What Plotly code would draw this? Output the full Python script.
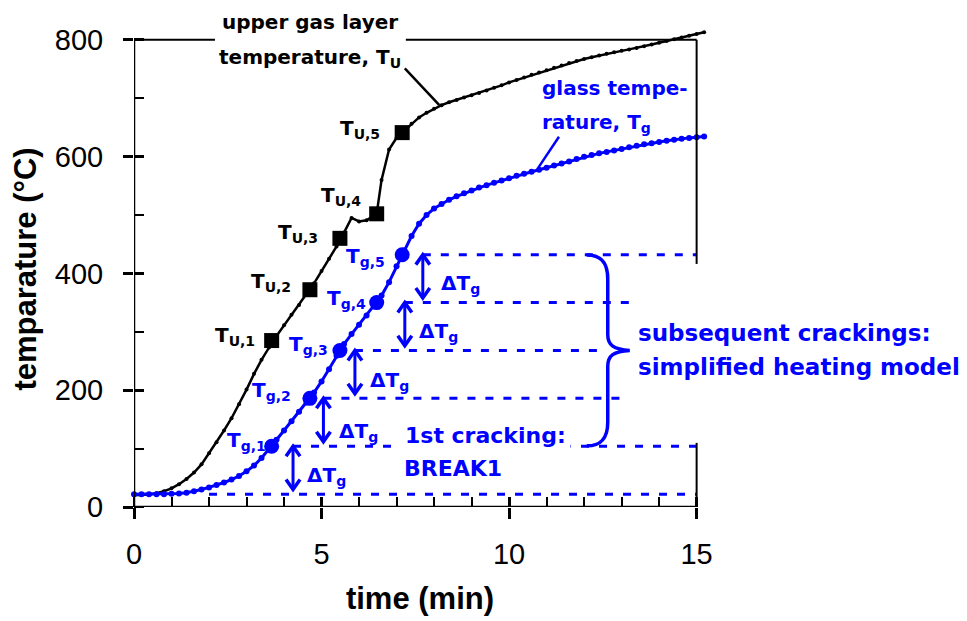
import plotly.graph_objects as go

# ---------------- data ----------------
time_min = [0.0, 0.2, 0.4, 0.6, 0.8, 1.0, 1.2, 1.4, 1.6, 1.8,
            2.0, 2.2, 2.4, 2.6, 2.8, 3.0, 3.2, 3.4, 3.6, 3.8,
            4.0, 4.2, 4.4, 4.6, 4.8, 5.0, 5.2, 5.4, 5.6, 5.8,
            6.0, 6.2, 6.4, 6.6, 6.8, 7.0, 7.2, 7.4, 7.6, 7.8,
            8.0, 8.2, 8.4, 8.6, 8.8, 9.0, 9.2, 9.4, 9.6, 9.8,
            10.0, 10.2, 10.4, 10.6, 10.8, 11.0, 11.2, 11.4, 11.6, 11.8,
            12.0, 12.2, 12.4, 12.6, 12.8, 13.0, 13.2, 13.4, 13.6, 13.8,
            14.0, 14.2, 14.4, 14.6, 14.8, 15.0, 15.2]

gas_temp = [20, 20.5, 21.5, 23.5, 27, 32, 39, 48, 59, 73,
            92, 111, 131, 152, 176, 201, 228, 252, 273, 293,
            311, 329, 346, 364, 383, 404, 425, 446, 470, 495,
            489, 491, 499, 560, 612, 632, 644, 656, 667, 675,
            682, 688, 693, 697, 701, 705, 709, 713, 718, 722,
            727, 731, 735.5, 740, 744, 748, 752, 756, 760, 763.5,
            767, 770, 773, 776, 778.5, 781, 783.5, 786, 789, 792,
            795, 798, 801, 804, 807, 810, 813]

glass_temp = [22, 22, 22, 22, 22, 22.5, 23, 24.5, 27, 30,
              33.5, 37.5, 42, 47, 53, 61, 71, 84, 99, 115,
              131, 147, 163, 179, 196, 215, 236, 259, 279, 296,
              312, 328, 344, 362, 385, 412, 439, 464, 485, 500,
              511, 519, 526, 532, 537, 542, 547, 551, 555, 559,
              563, 567, 570.5, 574, 577.5, 581, 584.5, 588, 591.5, 596,
              599.5, 602.5, 605.5, 608, 610.5, 613, 616, 618.5, 621, 623,
              625, 627, 629, 630.5, 632, 633, 634.5]

crack_time = [3.67, 4.69, 5.49, 6.47, 7.15]
gas_at_crack = [285, 372, 460, 502, 641]
glass_at_crack = [104, 186, 268, 350, 432]
glass_start = 22
crack_labels = ["1", "2", "3", "4", "5"]

x_ticks = [0, 5, 10, 15]
y_ticks = [0, 200, 400, 600, 800]

# ---------------- styling / layout helpers ----------------
BLUE = "#0000ff"
BLACK = "#000000"
TXT = "DejaVu Sans"
NUM = "Liberation Sans, Arial, sans-serif"

XR = [0, 15.25]
YR = [0, 815]
ML, MR, MT, MB = 134, 260.7, 30.7, 111.5
PW = 967 - ML - MR
PH = 621 - MT - MB
XS = PW / (XR[1] - XR[0])     # px per minute
YS = PH / (YR[1] - YR[0])     # px per degree


def px_x(p):
    return (p - ML) / XS


def px_y(p):
    return (621 - MB - p) / YS


def pp_x(p):
    return (p - ML) / PW


def pp_y(p):
    return (621 - MB - p) / PH


def merged(t, v, tm, vm):
    pts = sorted(zip(list(t) + list(tm), list(v) + list(vm)))
    return [p[0] for p in pts], [p[1] for p in pts]


gx, gy = merged(time_min, gas_temp, crack_time, gas_at_crack)
bx, by = merged(time_min, glass_temp, crack_time, glass_at_crack)

fig = go.Figure()
fig.add_trace(go.Scatter(x=gx, y=gy, mode="lines+markers",
                         line=dict(color=BLACK, width=2.5),
                         marker=dict(color=BLACK, size=4),
                         cliponaxis=False, hoverinfo="skip"))
fig.add_trace(go.Scatter(x=bx, y=by, mode="lines+markers",
                         line=dict(color=BLUE, width=3),
                         marker=dict(color=BLUE, size=6),
                         cliponaxis=False, hoverinfo="skip"))
fig.add_trace(go.Scatter(x=crack_time, y=gas_at_crack, mode="markers",
                         marker=dict(color=BLACK, size=15, symbol="square"),
                         cliponaxis=False))
fig.add_trace(go.Scatter(x=crack_time, y=glass_at_crack, mode="markers",
                         marker=dict(color=BLUE, size=15, symbol="circle"),
                         cliponaxis=False))
# empty traces that activate the overlay axes (inner halves of major ticks)
fig.add_trace(go.Scatter(x=[], y=[], xaxis="x2", yaxis="y", showlegend=False))
fig.add_trace(go.Scatter(x=[], y=[], xaxis="x", yaxis="y2", showlegend=False))

shapes = []
# frame
shapes.append(dict(type="line", x0=0, x1=0, y0=0, y1=800, line=dict(color=BLACK, width=2.5)))
shapes.append(dict(type="line", x0=0, x1=15, y0=0, y1=0, line=dict(color=BLACK, width=2.5)))
shapes.append(dict(type="line", x0=0, x1=px_x(215), y0=800, y1=800, line=dict(color=BLACK, width=2)))
shapes.append(dict(type="line", x0=px_x(406), x1=15, y0=800, y1=800, line=dict(color=BLACK, width=2)))
shapes.append(dict(type="line", x0=15, x1=15, y0=0, y1=px_y(445), line=dict(color=BLACK, width=2)))
shapes.append(dict(type="line", x0=15, x1=15, y0=px_y(265), y1=800, line=dict(color=BLACK, width=2)))

# dashed crack levels
levels = [glass_start] + glass_at_crack
arrow_x = [4.24, 5.05, 5.89, 7.22, 7.70]
line_start = [2.0] + arrow_x
line_end = [15, 15, 13.0, 12.4, 13.2, 15]
for lv, s, e in zip(levels, line_start, line_end):
    shapes.append(dict(type="line", x0=s, x1=e, y0=lv, y1=lv, layer="below",
                       line=dict(color=BLUE, width=3, dash="8px,10px")))

# double headed arrows (shaft + open chevron heads)
hw = 7 / XS      # half width of head
hh = 10 / YS     # height of head
for ax_, top, low in zip(arrow_x, glass_at_crack, levels[:-1]):
    bot = low + 8
    shapes.append(dict(type="line", x0=ax_, x1=ax_, y0=bot, y1=top, line=dict(color=BLUE, width=3)))
    shapes.append(dict(type="path",
                       path=f"M {ax_ - hw},{top - hh} L {ax_},{top} L {ax_ + hw},{top - hh}",
                       line=dict(color=BLUE, width=3.5)))
    shapes.append(dict(type="path",
                       path=f"M {ax_ - hw},{bot + hh} L {ax_},{bot} L {ax_ + hw},{bot + hh}",
                       line=dict(color=BLUE, width=3.5)))

# curly brace
bxp = [px_x(v) for v in (587, 600, 608, 614, 630)]
path = (f"M {bxp[0]},{px_y(256)} C {bxp[1]},{px_y(256)} {bxp[2]},{px_y(262)} {bxp[2]},{px_y(280)} "
        f"L {bxp[2]},{px_y(336)} C {bxp[2]},{px_y(347)} {bxp[3]},{px_y(351)} {bxp[4]},{px_y(352)} "
        f"C {bxp[3]},{px_y(353)} {bxp[2]},{px_y(357)} {bxp[2]},{px_y(368)} "
        f"L {bxp[2]},{px_y(424)} C {bxp[2]},{px_y(442)} {bxp[1]},{px_y(448)} {bxp[0]},{px_y(448)}")
shapes.append(dict(type="path", path=path, line=dict(color=BLUE, width=3.5)))

# leader lines
shapes.append(dict(type="line", x0=7.22, y0=751, x1=8.14, y1=688, line=dict(color=BLACK, width=2.5)))
shapes.append(dict(type="line", x0=11.33, y0=634, x1=10.78, y1=581, line=dict(color=BLUE, width=2.5)))

ann = []


def txt(text, px, py, color, size, xanchor="left", yshift=0, bg=None, pad=1):
    d = dict(text=text, x=pp_x(px), y=pp_y(py), xref="paper", yref="paper", showarrow=False,
             xanchor=xanchor, yanchor="middle", yshift=yshift, borderpad=pad,
             font=dict(family=TXT, size=size, color=color, weight="bold"))
    if bg:
        d["bgcolor"] = bg
    ann.append(d)


txt("upper gas layer", 310, 22, BLACK, 20, "center")
txt("temperature, T<sub>U</sub>", 310, 55, BLACK, 20, "center", yshift=-3)
txt("glass tempe-", 540, 88, BLUE, 20)
txt("rature, T<sub>g</sub>", 540, 120, BLUE, 20, yshift=-3)
txt("subsequent crackings:", 636, 334, BLUE, 23)
txt("simplified heating model", 636, 369, BLUE, 23)
txt("1st cracking:", 400, 438, BLUE, 22, bg="white", pad=4)
txt("BREAK1", 400, 471, BLUE, 22, bg="white", pad=3)

tu_pos = [(257, 334), (293, 280), (320, 231), (363, 194), (382, 126)]
tg_pos = [(268, 440), (293, 389.5), (330, 344), (368, 297), (387, 255)]
for lab, (ux, uy), (gx_, gy_) in zip(crack_labels, tu_pos, tg_pos):
    txt(f"T<sub>U,{lab}</sub>", ux, uy, BLACK, 20, "right", yshift=-3)
    txt(f"T<sub>g,{lab}</sub>", gx_, gy_, BLUE, 20, "right", yshift=-3)

d_pos = [(305, 475), (337, 431), (368, 380), (417, 330), (439, 282)]
for (dx, dy) in d_pos:
    txt("\u0394T<sub>g</sub>", dx, dy, BLUE, 20, yshift=-3)

fig.update_layout(
    width=967, height=621,
    margin=dict(l=ML, r=MR, t=MT, b=MB, pad=0),
    paper_bgcolor="white", plot_bgcolor="white",
    showlegend=False,
    shapes=shapes, annotations=ann,
    xaxis=dict(range=XR, tickvals=x_ticks, ticks="outside", ticklen=11, tickwidth=2.5,
               tickcolor=BLACK, showline=False, showgrid=False, zeroline=False,
               ticklabelstandoff=10,
               tickfont=dict(family=NUM, size=29, color=BLACK),
               minor=dict(dtick=1, tick0=0, ticks="inside", ticklen=10, tickwidth=1.5,
                          tickcolor=BLACK, showgrid=False),
               title=dict(text="time (min)", standoff=18,
                          font=dict(family=NUM, size=31, color=BLACK, weight="bold"))),
    yaxis=dict(range=YR, tickvals=y_ticks, ticks="outside", ticklen=10, tickwidth=2.5,
               tickcolor=BLACK, showline=False, showgrid=False, zeroline=False,
               ticklabelstandoff=14,
               tickfont=dict(family=NUM, size=29, color=BLACK),
               minor=dict(dtick=100, tick0=0, ticks="inside", ticklen=10, tickwidth=1.5,
                          tickcolor=BLACK, showgrid=False),
               title=dict(text="temparature (°C)", standoff=8,
                          font=dict(family=NUM, size=31, color=BLACK, weight="bold"))),
    xaxis2=dict(overlaying="x", anchor="y", side="bottom", range=XR, tickvals=x_ticks,
                ticks="inside", ticklen=10, tickwidth=2.5, tickcolor=BLACK,
                showticklabels=False, showgrid=False, zeroline=False, showline=False),
    yaxis2=dict(overlaying="y", anchor="x", side="left", range=YR, tickvals=y_ticks,
                ticks="inside", ticklen=10, tickwidth=2.5, tickcolor=BLACK,
                showticklabels=False, showgrid=False, zeroline=False, showline=False),
)

fig.write_html("out.html")
